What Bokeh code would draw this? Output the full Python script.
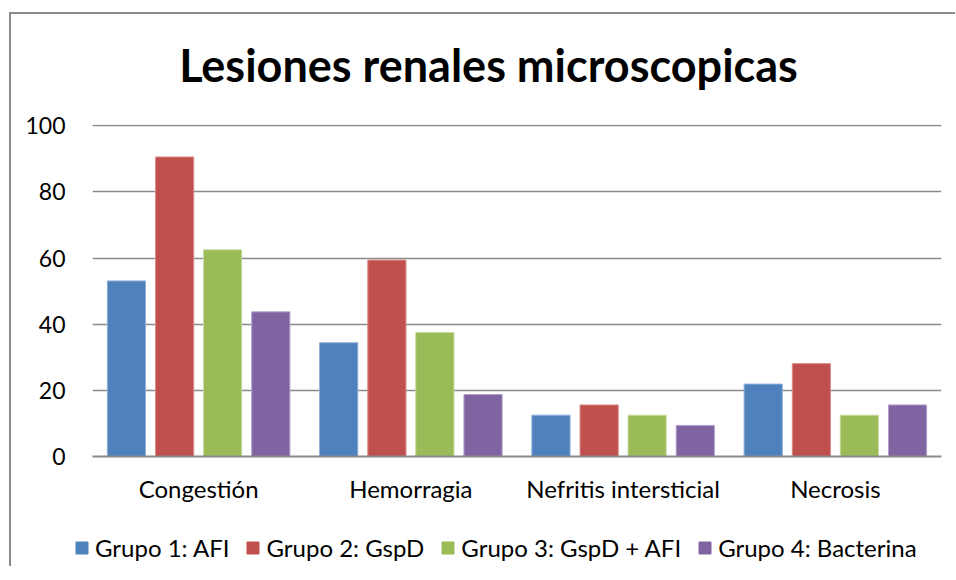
from bokeh.plotting import figure
from bokeh.layouts import column
from bokeh.models import FactorRange, ColumnDataSource, Legend, LegendItem, Range1d, Label
from bokeh.transform import dodge
from bokeh.embed import file_html
from bokeh.resources import INLINE

title_text = "Lesiones renales microscopicas"
categories = ["Congestión", "Hemorragia", "Nefritis intersticial", "Necrosis"]
series_names = ["Grupo 1: AFI", "Grupo 2: GspD", "Grupo 3: GspD + AFI", "Grupo 4: Bacterina"]
grupo1 = [53.1, 34.4, 12.5, 21.9]
grupo2 = [90.6, 59.4, 15.6, 28.1]
grupo3 = [62.5, 37.5, 12.5, 12.5]
grupo4 = [43.75, 18.75, 9.4, 15.6]
y_ticks = [0, 20, 40, 60, 80, 100]
colors = ["#4F81BD", "#C0504D", "#9BBB59", "#8064A2"]
edge_colors = ["#8FB0DA", "#DB8E8C", "#C6DB9E", "#B3A0CC"]

FONT = "Lato"
W = 944
TH = 80

# ---- title strip ----
tf = figure(width=W, height=TH, output_backend="svg", toolbar_location=None,
            x_range=(0, W), y_range=(0, TH), min_border=0,
            x_axis_location=None, y_axis_location=None)
tf.frame_align = False
tf.grid.grid_line_color = None
tf.outline_line_color = None
tf.add_layout(Label(x=477, y=30, text=title_text,
                    text_font=FONT, text_font_style="bold", text_font_size="45px",
                    text_color="#000000", text_align="center", text_baseline="alphabetic"))

# ---- main chart ----
src = ColumnDataSource(dict(cat=categories, g1=grupo1, g2=grupo2, g3=grupo3, g4=grupo4))
p = figure(x_range=FactorRange(*categories, range_padding=0), y_range=Range1d(0, 100.4),
           width=W, height=422, output_backend="svg", toolbar_location=None,
           min_border_left=81, min_border_right=14, min_border_top=30, min_border_bottom=60)

offsets = [-0.34, -0.113, 0.113, 0.34]
keys = ["g1", "g2", "g3", "g4"]
for k, off, c, ec in zip(keys, offsets, colors, edge_colors):
    p.vbar(x=dodge("cat", off, range=p.x_range), top=k, width=0.18, source=src,
           fill_color=c, line_color=ec, line_width=1)

p.yaxis.ticker = y_ticks
p.yaxis.axis_line_color = None
p.yaxis.major_tick_line_color = None
p.yaxis.minor_tick_line_color = None
p.yaxis.major_label_text_font = FONT
p.yaxis.major_label_text_font_size = "23px"
p.yaxis.major_label_text_color = "#000000"
p.yaxis.major_label_standoff = 21

p.xaxis.axis_line_color = "#8a8a8a"
p.xaxis.axis_line_width = 2
p.xaxis.major_tick_line_color = None
p.xaxis.minor_tick_line_color = None
p.xaxis.major_label_text_font = FONT
p.xaxis.major_label_text_font_size = "24px"
p.xaxis.major_label_text_color = "#000000"
p.xaxis.major_label_standoff = 11

p.xgrid.grid_line_color = None
p.ygrid.grid_line_color = "#8a8a8a"
p.ygrid.grid_line_width = 1.5
p.outline_line_color = None

# ---- legend strip ----
lg = figure(width=W, height=50, output_backend="svg", toolbar_location=None,
            x_range=(0, 1), y_range=(0, 1), min_border=0,
            x_axis_location=None, y_axis_location=None)
lg.frame_align = False
lg.grid.grid_line_color = None
lg.outline_line_color = None
rs = [lg.vbar(x=[-5], top=[-5], bottom=[-6], width=0.1, fill_color=c, line_color=c)
      for c in colors]
legend = Legend(items=[LegendItem(label=n, renderers=[r]) for n, r in zip(series_names, rs)],
                orientation="horizontal", label_text_font=FONT, label_text_font_size="24px",
                label_text_color="#000000",
                glyph_width=15, glyph_height=15, spacing=16, label_standoff=6,
                border_line_color=None, background_fill_alpha=0, margin=0, padding=0,
                location=(63, 4))
lg.add_layout(legend, "center")

layout = column(tf, p, lg, spacing=0)
layout.styles = {"border-left": "2px solid #8a8a8a", "border-top": "2px solid #8a8a8a",
                 "margin-top": "12px", "margin-left": "9px"}

open("out.html", "w").write(file_html(layout, INLINE))
